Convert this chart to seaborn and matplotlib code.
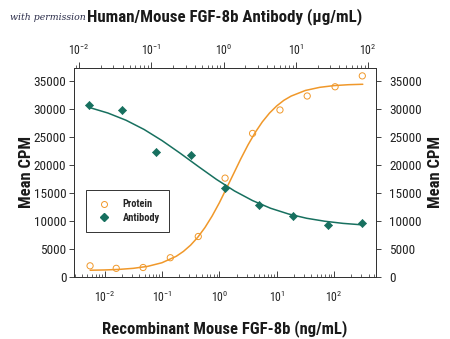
import matplotlib
matplotlib.use("Agg")
import matplotlib.pyplot as plt
import seaborn as sns
import pandas as pd
from matplotlib.ticker import LogLocator, NullFormatter, LogFormatterMathtext, FixedLocator
from matplotlib.lines import Line2D
from matplotlib import font_manager as fm

# ---------------- data ----------------
protein_conc = [0.0056, 0.016, 0.047, 0.14, 0.43, 1.26, 3.8, 11.4, 34, 104, 310]        # ng/mL
protein_cpm = [2000, 1550, 1700, 3450, 7250, 17700, 25700, 29900, 32400, 34050, 36000]

antibody_conc = [0.0139, 0.039, 0.116, 0.354, 1.05, 3.1, 9.2, 27.5, 83]                  # ug/mL
antibody_cpm = [30700, 29900, 22450, 21800, 15850, 12900, 10950, 9350, 9750]

protein_fit_x = [0.00562, 0.01, 0.0178, 0.0316, 0.0562, 0.1, 0.178, 0.237, 0.316, 0.422,
                 0.562, 0.75, 1.0, 1.33, 1.78, 2.37, 3.16, 4.22, 5.62, 7.5, 10, 13.3,
                 17.8, 31.6, 56.2, 100, 178, 316]
protein_fit_y = [1210, 1260, 1360, 1550, 1900, 2550, 3710, 4580, 5700, 7120,
                 8850, 10920, 13270, 15850, 18520, 21160, 23640, 25870, 27770, 29350, 30620, 31620,
                 32380, 33390, 33950, 34260, 34420, 34500]

antibody_fit_x = [0.0141, 0.0251, 0.0447, 0.0794, 0.141, 0.251, 0.447, 0.794, 1.41,
                  2.51, 4.47, 7.94, 14.1, 25.1, 44.7, 83.2]
antibody_fit_y = [30320, 29350, 28060, 26410, 24410, 22150, 19780, 17480, 15410,
                  13680, 12300, 11270, 10510, 9980, 9600, 9330]

y_ticks = [0, 5000, 10000, 15000, 20000, 25000, 30000, 35000]

orange = "#F0982A"
teal = "#17705F"

sns.set_theme(style="white")
installed = {f.name for f in fm.fontManager.ttflist}
narrow = [n for n in ["Liberation Sans Narrow", "Roboto Condensed", "Open Sans Condensed",
                      "DejaVu Sans"] if n in installed]
FONT = narrow + ["DejaVu Sans"]
plt.rcParams["font.family"] = FONT
plt.rcParams["font.stretch"] = "condensed"
plt.rcParams["mathtext.fontset"] = "dejavusans"
plt.rcParams["mathtext.default"] = "regular"

fig = plt.figure(figsize=(4.5, 3.39), dpi=100)
ax = fig.add_axes([74 / 450, 1 - 277 / 339, 302 / 450, 209.5 / 339])
axt = ax.twiny()
axr = ax.twinx()

prot_df = pd.DataFrame({"conc": protein_conc, "cpm": protein_cpm})
prot_fit = pd.DataFrame({"conc": protein_fit_x, "cpm": protein_fit_y})
ab_df = pd.DataFrame({"conc": antibody_conc, "cpm": antibody_cpm})
ab_fit = pd.DataFrame({"conc": antibody_fit_x, "cpm": antibody_fit_y})

sns.lineplot(data=prot_fit, x="conc", y="cpm", ax=ax, color=orange, lw=1.1, zorder=2)
sns.scatterplot(data=prot_df, x="conc", y="cpm", ax=ax, marker="o", s=20,
                facecolor="none", edgecolor=orange, linewidth=0.7, zorder=3)
sns.lineplot(data=ab_fit, x="conc", y="cpm", ax=axt, color=teal, lw=1.1, zorder=2)
sns.scatterplot(data=ab_df, x="conc", y="cpm", ax=axt, marker="D", s=17,
                color=teal, edgecolor=teal, linewidth=0.5, zorder=3)

ax.set_xscale("log")
axt.set_xscale("log")
ax.set_xlim(0.00294, 537)
axt.set_xlim(0.00853, 128)
for a in (ax, axt, axr):
    a.set_ylim(0, 37500)

ax.set_yticks(y_ticks)
axt.set_yticks(y_ticks)
axr.set_yticks(y_ticks)
ax.set_yticklabels([str(v) for v in y_ticks])
axr.set_yticklabels([str(v) for v in y_ticks])

for a in (ax, axt):
    a.xaxis.set_major_locator(FixedLocator([0.01, 0.1, 1, 10, 100]))
    a.xaxis.set_minor_locator(LogLocator(base=10, subs=range(2, 10), numticks=20))
    a.xaxis.set_minor_formatter(NullFormatter())
    a.xaxis.set_major_formatter(LogFormatterMathtext())

ax.tick_params(axis="x", which="major", direction="in", length=4, width=0.6,
               labelsize=8.5, pad=9, colors="#222222")
ax.tick_params(axis="x", which="minor", direction="in", length=2.2, width=0.5)
axt.tick_params(axis="x", which="major", direction="out", length=4, width=0.6,
                labelsize=8.5, pad=2.5, colors="#222222")
axt.tick_params(axis="x", which="minor", direction="out", length=2.2, width=0.5)
ax.tick_params(axis="y", direction="out", length=3.5, width=0.6, labelsize=9.5, pad=2,
               left=True, colors="#222222")
axr.tick_params(axis="y", direction="out", length=3.5, width=0.6, labelsize=9.5, pad=6,
                right=True, colors="#222222")
axt.tick_params(axis="y", left=False, right=False, labelleft=False, labelright=False)
ax.tick_params(bottom=True)
axt.tick_params(top=True)

for a in (ax, axt, axr):
    for sp in a.spines.values():
        sp.set_color("#333333")
        sp.set_linewidth(0.7)

lab = dict(fontweight="bold", color="#1a1a1a")
ax.set_xlabel("Recombinant Mouse FGF-8b (ng/mL)", labelpad=11, fontsize=12, **lab)
axt.set_xlabel("Human/Mouse FGF-8b Antibody (\u03bcg/mL)", labelpad=16, fontsize=12.2, **lab)
ax.set_ylabel("Mean CPM", labelpad=0, fontsize=12, **lab)
axr.set_ylabel("Mean CPM", labelpad=4, fontsize=12, **lab)
axt.set_ylabel("")

fig.text(10 / 450, 1 - 17 / 339, "with permission", fontsize=7.5, style="italic",
         family=["DejaVu Serif"], color="#2b2d4a", va="center", ha="left", zorder=0)

for a in (ax, axt):
    lg = a.get_legend()
    if lg is not None:
        lg.remove()

handles = [
    Line2D([], [], linestyle="none", marker="o", markersize=4.3, markerfacecolor="none",
           markeredgecolor=orange, markeredgewidth=0.7),
    Line2D([], [], linestyle="none", marker="D", markersize=3.8, markerfacecolor=teal,
           markeredgecolor=teal),
]
leg = axr.legend(handles, ["Protein", "Antibody"], loc="lower left",
                 bbox_to_anchor=(0.04, 0.215), borderaxespad=0, frameon=True,
                 fancybox=False, edgecolor="#333333", framealpha=1,
                 prop={"family": FONT, "size": 7.5, "weight": "bold", "stretch": "condensed"},
                 handlelength=1.6, handletextpad=1.0, borderpad=0.9, labelspacing=0.3)
leg.get_frame().set_linewidth(0.7)

fig.savefig("out.png", dpi=100)
